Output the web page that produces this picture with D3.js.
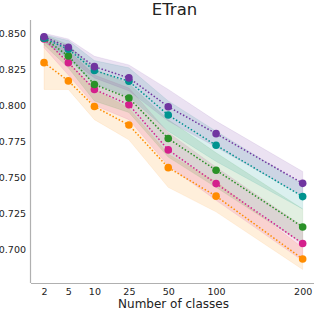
<!DOCTYPE html>
<html>
<head>
<meta charset="utf-8">
<script src="https://cdn.jsdelivr.net/npm/d3@7"></script>
<style>
  html, body { margin: 0; padding: 0; background: #fff; }
  svg { display: block; }
  text { font-family: "DejaVu Sans", sans-serif; fill: #222; }
</style>
</head>
<body>
<div id="chart"></div>
<script>
// ---- data ----
const classes = [2, 5, 10, 25, 50, 100, 200];
const yTicks = [0.700, 0.725, 0.750, 0.775, 0.800, 0.825, 0.850];
const seriesNames = ["orange", "magenta", "green", "teal", "purple"];

const orangeMean  = [0.8296, 0.8169, 0.7991, 0.7863, 0.7567, 0.7369, 0.6933];
const orangeLow   = [0.811, 0.811, 0.790, 0.776, 0.743, 0.726, 0.686];
const orangeHigh  = [0.846, 0.830, 0.811, 0.798, 0.766, 0.747, 0.701];

const magentaMean = [0.8460, 0.8296, 0.8110, 0.8004, 0.7690, 0.7456, 0.7040];
const magentaLow  = [0.840, 0.821, 0.800, 0.790, 0.758, 0.734, 0.692];
const magentaHigh = [0.849, 0.838, 0.821, 0.812, 0.781, 0.757, 0.716];

const greenMean   = [0.8465, 0.8342, 0.8144, 0.8050, 0.7769, 0.7549, 0.7155];
const greenLow    = [0.842, 0.826, 0.803, 0.795, 0.764, 0.743, 0.704];
const greenHigh   = [0.849, 0.842, 0.825, 0.815, 0.790, 0.767, 0.728];

const tealMean    = [0.8465, 0.8389, 0.8241, 0.8167, 0.7932, 0.7722, 0.7366];
const tealLow     = [0.844, 0.832, 0.815, 0.806, 0.782, 0.761, 0.728];
const tealHigh    = [0.849, 0.845, 0.831, 0.826, 0.803, 0.782, 0.745];

const purpleMean  = [0.8476, 0.8403, 0.8268, 0.8190, 0.7990, 0.7803, 0.7458];
const purpleLow   = [0.845, 0.833, 0.819, 0.810, 0.789, 0.771, 0.737];
const purpleHigh  = [0.850, 0.846, 0.834, 0.828, 0.811, 0.789, 0.754];

const colors = {
  orange: "#ff8c00", magenta: "#d4208c", green: "#2a9128",
  teal: "#00938f", purple: "#7035a0"
};
const table = {
  orange:  [orangeMean, orangeLow, orangeHigh],
  magenta: [magentaMean, magentaLow, magentaHigh],
  green:   [greenMean, greenLow, greenHigh],
  teal:    [tealMean, tealLow, tealHigh],
  purple:  [purpleMean, purpleLow, purpleHigh]
};

// ---- layout ----
const W = 316, H = 314;
const mLeft = 31, mRight = 314, mTop = 20, mBottom = 283;
const svg = d3.select("#chart").append("svg").attr("width", W).attr("height", H);

// x axis spacing used by the original figure (fractions of plot width)
const xFrac = [0.046, 0.132, 0.224, 0.346, 0.485, 0.654, 0.960];
const x = d3.scaleLinear()
  .domain(classes)
  .range(xFrac.map(f => mLeft + f * (mRight - mLeft)));
const y = d3.scaleLinear().domain([0.6766, 0.8592]).range([mBottom, mTop]);

// bands
seriesNames.forEach(name => {
  const [m, lo, hi] = table[name];
  const pts = classes.map((c, i) => ({c, lo: lo[i], hi: hi[i]}));
  svg.append("path")
    .attr("d", d3.area().x(d => x(d.c)).y0(d => y(d.lo)).y1(d => y(d.hi))(pts))
    .attr("fill", colors[name]).attr("fill-opacity", 0.14)
    .attr("stroke", colors[name]).attr("stroke-opacity", 0.12).attr("stroke-width", 0.8);
});

// lines + markers
seriesNames.forEach(name => {
  const [m] = table[name];
  const pts = classes.map((c, i) => ({c, v: m[i]}));
  svg.append("path")
    .attr("d", d3.line().x(d => x(d.c)).y(d => y(d.v))(pts))
    .attr("fill", "none").attr("stroke", colors[name])
    .attr("stroke-width", 1.5).attr("stroke-dasharray", "1.5,2");
  svg.selectAll(null).data(pts).enter().append("circle")
    .attr("cx", d => x(d.c)).attr("cy", d => y(d.v)).attr("r", 3.8)
    .attr("fill", colors[name]);
});

// axes
const xAxis = d3.axisBottom(x).tickValues(classes).tickSize(0).tickPadding(5)
  .tickFormat(d3.format("d"));
const gx = svg.append("g").attr("transform", `translate(0,${mBottom})`).call(xAxis);
gx.select(".domain").attr("d", `M${mLeft},0.5H${mRight}`).attr("stroke", "#b0b0b0").attr("stroke-width", 1.2);
gx.selectAll("text").attr("font-size", 9.5).attr("fill", "#222");

const yAxis = d3.axisLeft(y).tickValues(yTicks).tickSize(0).tickPadding(5)
  .tickFormat(d3.format(".3f"));
const gy = svg.append("g").attr("transform", `translate(${mLeft},0)`).call(yAxis);
gy.select(".domain").attr("d", `M-0.5,${mTop}V${mBottom}`).attr("stroke", "#b0b0b0").attr("stroke-width", 1.2);
gy.selectAll("text").attr("font-size", 9.5).attr("fill", "#222");

// title and label
svg.append("text").attr("x", (mLeft + mRight) / 2 + 2).attr("y", 15)
  .attr("text-anchor", "middle").attr("font-size", 16.5).text("ETran");
svg.append("text").attr("x", (mLeft + mRight) / 2 + 1).attr("y", 308)
  .attr("text-anchor", "middle").attr("font-size", 12).text("Number of classes");
</script>
</body>
</html>
